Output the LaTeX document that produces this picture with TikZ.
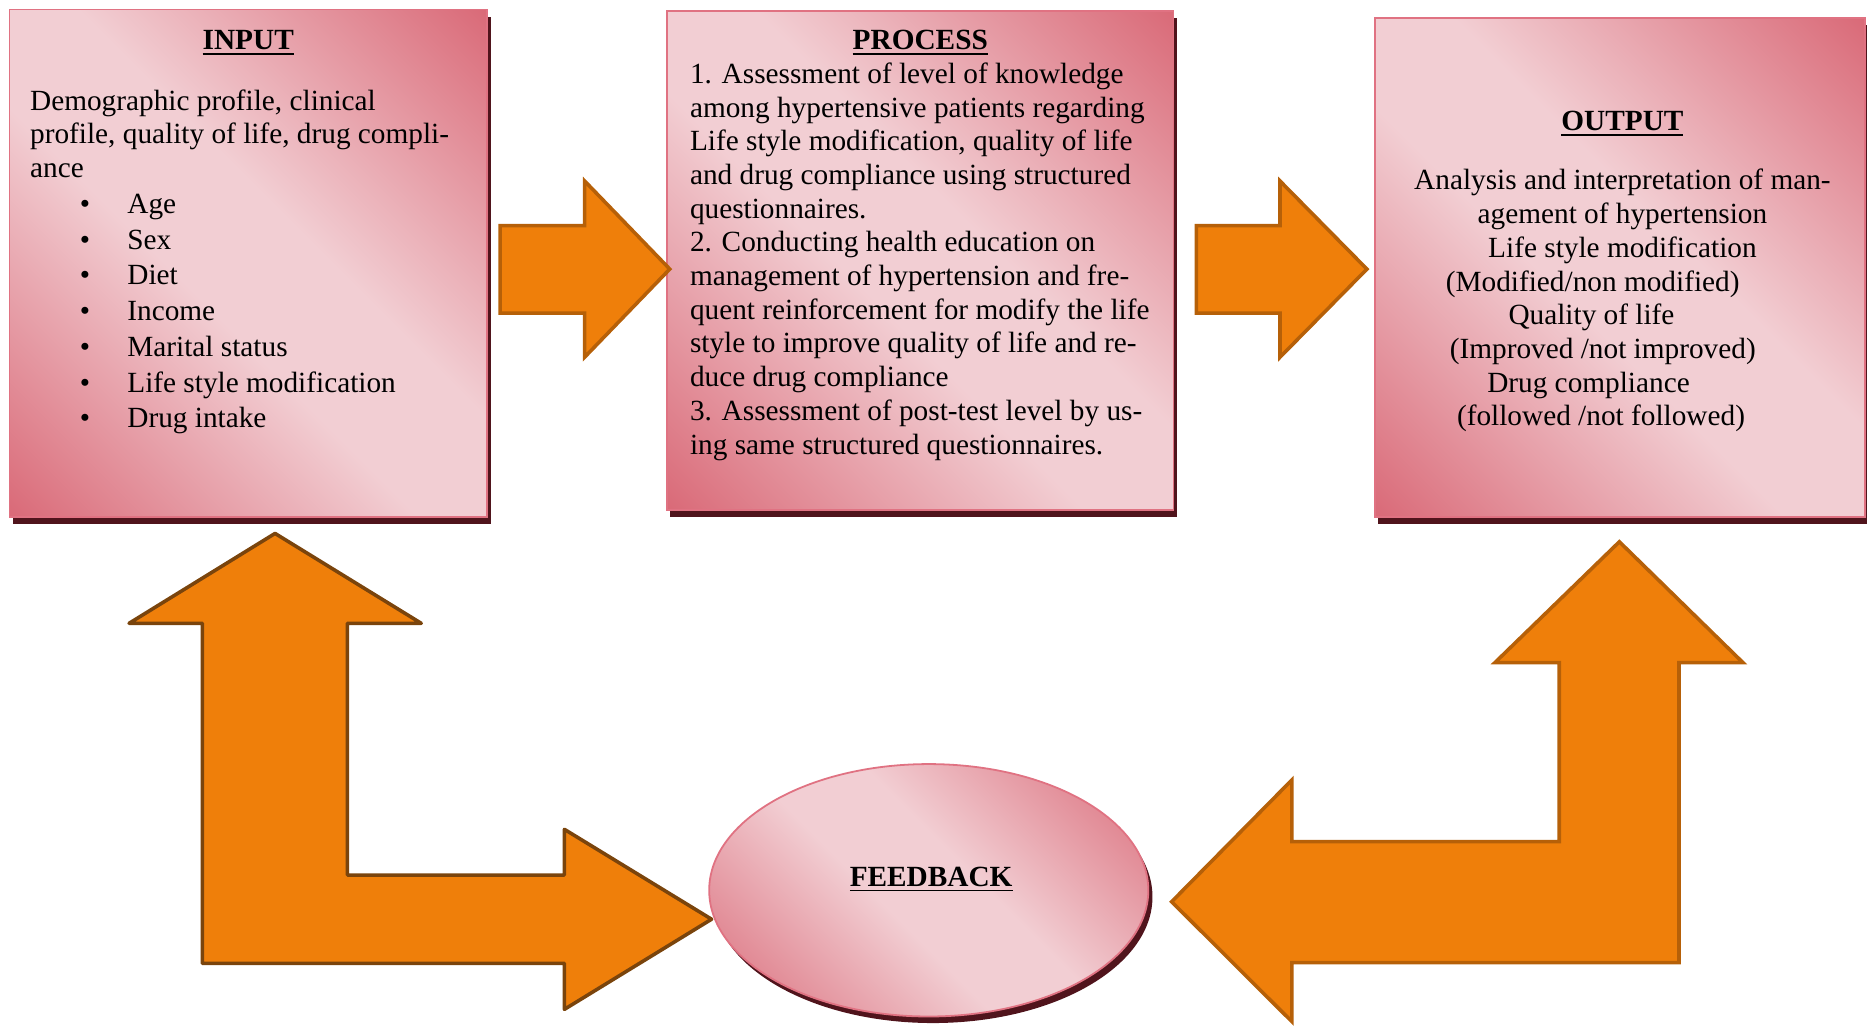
\documentclass[tikz,border=0pt]{standalone}
\usepackage{fontspec}
\setmainfont{Liberation Serif}
\usetikzlibrary{shapes.geometric,shadows}
\definecolor{pdark}{RGB}{217,104,118}
\definecolor{plight}{RGB}{242,206,211}
\definecolor{pborder}{RGB}{224,114,130}
\definecolor{shadowc}{RGB}{80,20,28}
\definecolor{orfill}{RGB}{239,127,10}
\definecolor{oredge}{RGB}{182,96,8}
\definecolor{oredgedark}{RGB}{122,68,12}
\pgfdeclarehorizontalshading{pinkdiag}{100bp}{color(0bp)=(pdark); color(14bp)=(pdark); color(44bp)=(plight); color(56bp)=(plight); color(86bp)=(pdark); color(100bp)=(pdark)}
\newcommand\ulin[1]{\setbox0=\hbox{#1}\leavevmode\rlap{\rule[-4pt]{\wd0}{1.6pt}}\box0}
\newcommand\bul{\makebox[39.9pt][l]{\textbullet}}
\newcommand\shl[1]{\kern#1pt\mbox{}}
\tikzset{
  pinkbox/.style={rectangle, draw=pborder, line width=1.5pt, shade, shading=pinkdiag, shading angle=45, inner sep=0pt,
    general shadow={fill=shadowc, shadow xshift=3pt, shadow yshift=-6pt}},
  pinkell/.style={ellipse, draw=pborder, line width=1.5pt, shade, shading=pinkdiag, shading angle=45, inner sep=0pt,
    general shadow={fill=shadowc, shadow xshift=3.5pt, shadow yshift=-5.5pt}},
  txt/.style={inner sep=0pt, font=\fontsize{24.6pt}{28.3pt}\selectfont, align=left},
  lst/.style={inner sep=0pt, font=\fontsize{24.6pt}{30pt}\selectfont, align=left},
  ttl/.style={inner sep=0pt, font=\fontsize{24.6pt}{28.3pt}\selectfont\bfseries},
  blockarrow/.style={fill=orfill, draw=oredge, line width=3pt, line join=miter},
  blockarrowdark/.style={fill=orfill, draw=oredgedark, line width=3pt, line join=round},
}
\begin{document}
\begin{tikzpicture}[x=1pt, y=-1pt]
\useasboundingbox (0,0) rectangle (1568,861);

% boxes
\node[pinkbox, minimum width=401pt, minimum height=426pt] (inbox) at (208.5,221) {};
\node[pinkbox, minimum width=425.5pt, minimum height=419pt] (procbox) at (772.75,218.5) {};
\node[pinkbox, minimum width=411.5pt, minimum height=419pt] (outbox) at (1360.25,224.5) {};
\node[pinkell, minimum width=368.8pt, minimum height=212pt] (fb) at (780,747.7) {};

% INPUT text (base anchor = baseline of the last line)
\node[ttl, anchor=base] (intitle) at (208.5,41.9) {\ulin{INPUT}};
\node[txt, anchor=base west] (inpara) at (25.1,149.1) {Demographic profile, clinical\\profile, quality of life, drug compli-\\ance};
\node[lst, anchor=base west] (inlist) at (66.9,359.3) {\bul Age\\\bul Sex\\\bul Diet\\\bul Income\\\bul Marital status\\\bul Life style modification\\\bul Drug intake};

% PROCESS text
\node[ttl, anchor=base] (proctitle) at (772.9,41.9) {\ulin{PROCESS}};
\node[txt, anchor=base west] (procbody) at (579.3,381.3) {1. Assessment of level of knowledge\\among hypertensive patients regarding\\Life style modification, quality of life\\and drug compliance using structured\\questionnaires.\\2. Conducting health education on\\management of hypertension and fre-\\quent reinforcement for modify the life\\style to improve quality of life and re-\\duce drug compliance\\3. Assessment of post-test level by us-\\ing same structured questionnaires.};

% OUTPUT text
\node[ttl, anchor=base] (outtitle) at (1362.6,109.9) {\ulin{OUTPUT}};
\node[txt, align=center, anchor=base] (outbody) at (1362.6,357.6) {Analysis and interpretation of man-\\agement of hypertension\\Life style modification\\(Modified/non modified)\shl{50}\\Quality of life\shl{52}\\(Improved /not improved)\shl{33}\\Drug compliance\shl{57}\\(followed /not followed)\shl{36}};

% FEEDBACK text
\node[ttl, anchor=base] (fbtext) at (782,744.7) {\ulin{FEEDBACK}};

% straight block arrows
\path[blockarrow] (420,189.5) -- (491,189.5) -- (491,152) -- (562.5,226) -- (491,300) -- (491,263) -- (420,263) -- cycle;
\path[blockarrow] (1004.7,189.5) -- (1075,189.5) -- (1075,152) -- (1148,226) -- (1075,300) -- (1075,263) -- (1004.7,263) -- cycle;

% left bent double arrow (INPUT <-> FEEDBACK)
\path[blockarrowdark] (231,448) -- (353.8,523.5) -- (291.8,523.5) -- (291.8,734.9) -- (474,734.9) -- (474,696.5)
  -- (597.6,772) -- (474,847.7) -- (474,809.1) -- (170,809.1) -- (170,523.5) -- (108.4,523.5) -- cycle;

% right bent double arrow (OUTPUT <-> FEEDBACK)
\path[blockarrow] (1360,455) -- (1463.8,556.5) -- (1410.1,556.5) -- (1410.1,808.5) -- (1085,808.5) -- (1085,858)
  -- (984,757.3) -- (1085,655) -- (1085,706.9) -- (1309.5,706.9) -- (1309.5,556.5) -- (1255.5,556.5) -- cycle;
\end{tikzpicture}
\end{document}
